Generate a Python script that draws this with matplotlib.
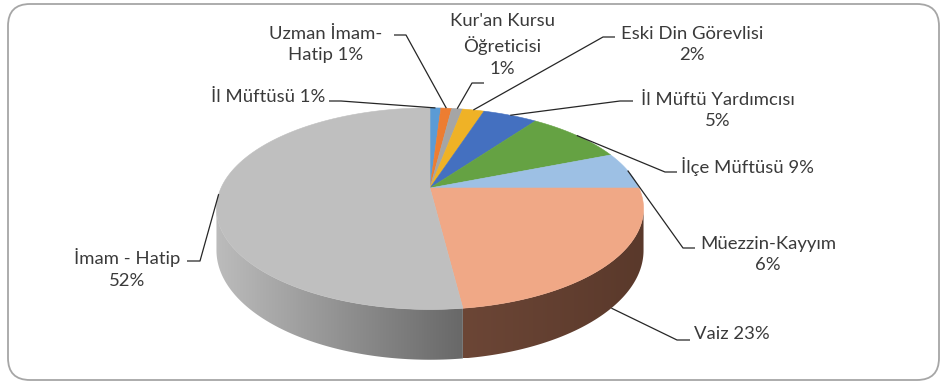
import numpy as np
import matplotlib.pyplot as plt
from matplotlib.patches import Polygon, FancyBboxPatch

plt.rcParams['font.family'] = ['Lato', 'DejaVu Sans']

# slices, clockwise from 12 o'clock
names = ['İl Müftüsü', 'Uzman İmam-\nHatip', "Kur'an Kursu\nÖğreticisi", 'Eski Din Görevlisi',
         'İl Müftü Yardımcısı', 'İlçe Müftüsü', 'Müezzin-Kayyım', 'Vaiz', 'İmam - Hatip']
shares = [1, 1, 1, 2, 5, 9, 6, 23, 52]
seps = [' ', ' ', '\n', '\n', '\n', ' ', '\n', ' ', '\n']
colors = ['#5b9bd5', '#ed7d31', '#a5a5a5', '#efb226', '#4470c0',
          '#65a243', '#9dc0e4', '#f0a886', '#bfbfbf']
# side wall shading (left, right) for the slices that face the viewer
side_colors = {7: ('#6c4636', '#5a392b'), 8: ('#bcbcbc', '#686868')}

# pie geometry in pixel units (perspective tilted disc)
CX, CY = 430, 188
RX = 209
PA, PC = 58.0, -0.205
DEPTH = 40


def project(theta, drop=0.0):
    t = np.radians(theta)
    u, v = np.sin(t), -np.cos(t)
    w = 1 + PC * v
    return CX + RX * u / w, (PA * v + CY) / w + drop * DEPTH / w


W, H = 942, 384
fig = plt.figure(figsize=(W / 100, H / 100), dpi=100)
ax = fig.add_axes([0, 0, 1, 1])
ax.set_xlim(0, W)
ax.set_ylim(H, 0)
ax.axis('off')

frame = FancyBboxPatch((8, 4), 931, 376, boxstyle='round,pad=0,rounding_size=22',
                       fc='white', ec='#a6a6a6', lw=1.3, zorder=0)
ax.add_patch(frame)

total = sum(shares)
bounds = np.concatenate([[0], np.cumsum(shares)]) * 360.0 / total
mids = (bounds[:-1] + bounds[1:]) / 2

# visible part of the side wall lies between the horizontal extremes
th_r = np.degrees(np.arccos(PC))
th_l = 360 - th_r

for i, (a0, a1) in enumerate(zip(bounds[:-1], bounds[1:])):
    s0, s1 = max(a0, th_r), min(a1, th_l)
    if s1 <= s0:
        continue
    th = np.linspace(s0, s1, 120)
    xt, yt = project(th)
    xb, yb = project(th[::-1], 1)
    pts = np.column_stack([np.concatenate([xt, xb]), np.concatenate([yt, yb])])
    poly = Polygon(pts, closed=True, fc='none', ec='none', transform=ax.transData)
    ax.add_patch(poly)
    c0, c1 = side_colors[i]
    c0 = np.array(plt.matplotlib.colors.to_rgb(c0))
    c1 = np.array(plt.matplotlib.colors.to_rgb(c1))
    f = np.linspace(0, 1, 256)[:, None]
    grad = (c0 * (1 - f) + c1 * f)[None, :, :]
    im = ax.imshow(grad, extent=[pts[:, 0].min(), pts[:, 0].max(),
                                 pts[:, 1].max(), pts[:, 1].min()],
                   aspect='auto', interpolation='bilinear', zorder=1)
    im.set_clip_path(poly)

for i, (a0, a1) in enumerate(zip(bounds[:-1], bounds[1:])):
    th = np.linspace(a0, a1, max(4, int((a1 - a0) * 2)))
    xs, ys = project(th)
    pts = np.column_stack([np.concatenate([[CX], xs]), np.concatenate([[CY], ys])])
    ax.add_patch(Polygon(pts, closed=True, fc=colors[i], ec=colors[i], lw=0.4, zorder=2))

# label layout: text position, alignment, elbow x, tick end x, tick y
layout = [
    (325, 97, 'right', 341, 329, 101),
    (326, 44.5, 'center', 406, 394, 35),
    (502, 45, 'center', 472, 484, 83),
    (692, 44.5, 'center', 603, 615, 37),
    (718, 110.5, 'center', 620, 633, 101),
    (681, 167, 'left', 665, 677, 172),
    (768, 254.5, 'center', 683, 695, 248),
    (694, 334, 'left', 677, 690, 340),
    (127, 268.5, 'center', 200, 187, 261),
]

for i, (tx, ty, ha, ex, kx, ky) in enumerate(layout):
    drop = 1 if i == 7 else 0
    axp, ayp = project(mids[i], drop)
    ax.plot([axp, ex, kx], [ayp, ky, ky], color='#262626', lw=0.9, zorder=3,
            solid_capstyle='butt')
    ax.text(tx, ty, f'{names[i]}{seps[i]}{shares[i]}%', ha=ha, va='center',
            multialignment='center', fontsize=13.3, color='#3a3a3a',
            linespacing=1.45, zorder=4)

fig.savefig('out.png', dpi=100)
